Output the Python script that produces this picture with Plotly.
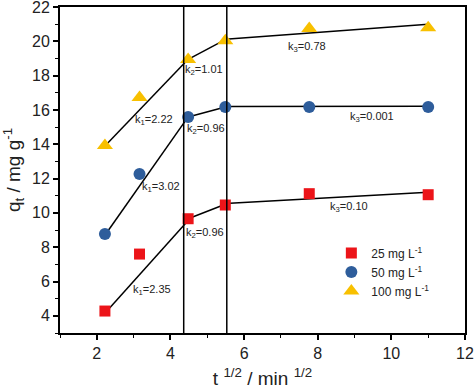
import plotly.graph_objects as go

x_pts = [2.22, 3.16, 4.48, 5.49, 7.77, 11.0]
q_25 = [4.28, 7.6, 9.66, 10.46, 11.12, 11.06]
q_50 = [8.77, 12.27, 15.59, 16.17, 16.17, 16.17]
q_100 = [13.93, 16.72, 18.94, 20.03, 20.75, 20.79]

# fitted segments (x, y) per series
fit_25 = {"x": [2.22, 4.48, None, 4.48, 5.49, None, 5.49, 11.0],
          "y": [4.15, 9.55, None, 9.66, 10.5, None, 10.55, 11.2]}
fit_50 = {"x": [2.22, 4.48, None, 4.48, 5.49, None, 5.49, 11.0],
          "y": [8.7, 15.6, None, 15.59, 16.17, None, 16.2, 16.22]}
fit_100 = {"x": [2.22, 4.48, None, 4.48, 5.49, None, 5.49, 11.0],
           "y": [13.9, 18.95, None, 18.95, 20.1, None, 20.12, 21.0]}

boundaries = [4.36, 5.53]

labels = ["k<sub>2</sub>=1.01", "k<sub>1</sub>=2.22", "k<sub>2</sub>=0.96", "k<sub>1</sub>=3.02",
          "k<sub>3</sub>=0.78", "k<sub>3</sub>=0.001", "k<sub>2</sub>=0.96", "k<sub>1</sub>=2.35",
          "k<sub>3</sub>=0.10"]
label_x = [4.9, 3.54, 4.96, 3.75, 7.71, 9.47, 4.93, 3.5, 8.85]
label_y = [18.3, 15.4, 14.9, 11.5, 19.66, 15.57, 8.8, 5.5, 10.36]

fig = go.Figure()
for f in (fit_25, fit_50, fit_100):
    fig.add_trace(go.Scatter(x=f["x"], y=f["y"], mode="lines",
                             line=dict(color="black", width=1.5),
                             showlegend=False, hoverinfo="skip"))

fig.add_trace(go.Scatter(x=x_pts, y=q_25, mode="markers", name="25 mg L<sup>-1</sup>",
                         marker=dict(symbol="square", size=11, color="#ec1419")))
fig.add_trace(go.Scatter(x=x_pts, y=q_50, mode="markers", name="50 mg L<sup>-1</sup>",
                         marker=dict(symbol="circle", size=12, color="#2e5d9b")))
fig.add_trace(go.Scatter(x=x_pts, y=q_100, mode="markers", name="100 mg L<sup>-1</sup>",
                         marker=dict(symbol="triangle-up", size=14, color="#f8c000")))

for b in boundaries:
    fig.add_shape(type="line", x0=b, x1=b, y0=0, y1=1, xref="x", yref="paper",
                  line=dict(color="black", width=1.5))

for t, x, y in zip(labels, label_x, label_y):
    fig.add_annotation(x=x, y=y, text=t, showarrow=False,
                       font=dict(size=11, color="#222", family="Liberation Sans, Arial"))

axis_common = dict(showline=True, linecolor="black", linewidth=2, mirror=True,
                   ticks="outside", ticklen=5, tickwidth=1.5, tickcolor="black",
                   showgrid=False, zeroline=False, automargin=False,
                   ticklabeloverflow="allow",
                   tickfont=dict(size=16, color="#222"),
                   minor=dict(ticks="outside", ticklen=3, tickwidth=1.2, tickcolor="black"))

fig.update_xaxes(range=[1, 12], dtick=2, tick0=0, minor_dtick=1,
                 title=dict(text="t <sup>1/2</sup> / min <sup>1/2</sup>", font=dict(size=19, color="#222"),
                            standoff=10),
                 **axis_common)
fig.update_yaxes(range=[3, 22], dtick=2, tick0=0, minor_dtick=1,
                 title=dict(text="q<sub>t</sub> / mg g<sup>-1</sup>", font=dict(size=19, color="#222"),
                            standoff=6),
                 **axis_common)

fig.update_layout(
    width=474, height=391,
    margin=dict(l=60, r=9, t=7, b=58),
    plot_bgcolor="white", paper_bgcolor="white",
    font=dict(family="Liberation Sans, Arial", color="#222"),
    legend=dict(x=0.67, y=0.29, xanchor="left", yanchor="top",
                bgcolor="rgba(0,0,0,0)", font=dict(size=12), tracegroupgap=0),
)

fig.write_html("out.html", config={"displayModeBar": False},
               post_script="document.body.style.margin='0px';")
